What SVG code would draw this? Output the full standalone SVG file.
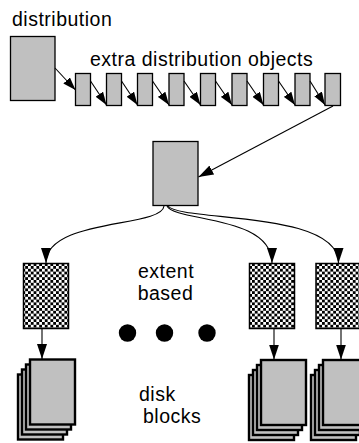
<svg xmlns="http://www.w3.org/2000/svg" width="359" height="443" viewBox="0 0 359 443">
  <style>
    .lbl { font-family: "Liberation Sans", Arial, sans-serif; font-size: 19.5px; letter-spacing: 0.5px; fill: #000; }
    .box { fill: #c0c0c0; stroke: #000; stroke-width: 1.3; }
    .sheet { fill: #c0c0c0; stroke: #000; stroke-width: 2.4; }
    .chk { fill: url(#checker); stroke: #000; stroke-width: 1.5; }
    .wire { fill: none; stroke: #000; stroke-width: 1.1; }
  </style>
  <defs>
    <pattern id="checker" patternUnits="userSpaceOnUse" width="5.6" height="5.6" x="0" y="0">
      <rect width="5.6" height="5.6" fill="#fff"/>
      <rect width="2.8" height="2.8" fill="#000"/>
      <rect x="2.8" y="2.8" width="2.8" height="2.8" fill="#000"/>
    </pattern>
    <marker id="head" markerUnits="userSpaceOnUse" markerWidth="13" markerHeight="9" refX="13" refY="4.5" orient="auto">
      <path d="M0,0 L13,4.5 L0,9 z" fill="#000"/>
    </marker>
    <marker id="headL" markerUnits="userSpaceOnUse" markerWidth="15" markerHeight="10" refX="15" refY="5" orient="auto">
      <path d="M0,0 L15,5 L0,10 z" fill="#000"/>
    </marker>
  </defs>

  <!-- labels -->
  <text class="lbl" x="12" y="26">distribution</text>
  <text class="lbl" x="90" y="65.5">extra distribution objects</text>
  <text class="lbl" x="166" y="277.5" text-anchor="middle">extent</text>
  <text class="lbl" x="165.5" y="299.5" text-anchor="middle">based</text>
  <text class="lbl" x="139" y="400.5">disk</text>
  <text class="lbl" x="143" y="422.5">blocks</text>

  <!-- distribution object -->
  <g id="dist">
    <rect class="box" x="10.5" y="36.5" width="44.5" height="64"/>
  </g>

  <!-- extra distribution objects -->
  <g id="extra">
    <rect class="box" x="75.5" y="73.5" width="15" height="32"/>
    <rect class="box" x="106.5" y="73.5" width="15" height="32"/>
    <rect class="box" x="137.5" y="73.5" width="15" height="32"/>
    <rect class="box" x="169" y="73.5" width="15" height="32"/>
    <rect class="box" x="200.5" y="73.5" width="15" height="32"/>
    <rect class="box" x="232" y="73.5" width="15" height="32"/>
    <rect class="box" x="263.5" y="73.5" width="15" height="32"/>
    <rect class="box" x="295" y="73.5" width="15" height="32"/>
    <rect class="box" x="325" y="73.5" width="15.5" height="32"/>
  </g>

  <!-- map object -->
  <g id="map">
    <rect class="box" x="153" y="141.5" width="45" height="64"/>
  </g>

  <!-- extent based objects -->
  <g id="ext1"><rect class="chk" x="23.5" y="263.5" width="45" height="65"/></g>
  <g id="ext2"><rect class="chk" x="249.5" y="263.5" width="45" height="65"/></g>
  <g id="ext3"><rect class="chk" x="316" y="263.5" width="45" height="65"/></g>

  <!-- ellipsis -->
  <g id="dots">
    <circle cx="127.5" cy="333" r="8.7"/>
    <circle cx="164.5" cy="333" r="8.7"/>
    <circle cx="207" cy="333" r="8.7"/>
  </g>

  <!-- disk block stacks -->
  <g id="disk1">
    <rect class="sheet" x="18" y="374.5" width="45" height="65"/>
    <rect class="sheet" x="22" y="369.5" width="45" height="65"/>
    <rect class="sheet" x="26" y="364.5" width="45" height="65"/>
    <rect class="sheet" x="30" y="359.5" width="45" height="65"/>
  </g>
  <g id="disk2">
    <rect class="sheet" x="249" y="375" width="45" height="65"/>
    <rect class="sheet" x="253" y="370" width="45" height="65"/>
    <rect class="sheet" x="257" y="365" width="45" height="65"/>
    <rect class="sheet" x="261" y="360" width="45" height="65"/>
  </g>
  <g id="disk3">
    <rect class="sheet" x="311" y="375" width="45" height="65"/>
    <rect class="sheet" x="315" y="370" width="45" height="65"/>
    <rect class="sheet" x="319" y="365" width="45" height="65"/>
    <rect class="sheet" x="323" y="360" width="45" height="65"/>
  </g>

  <!-- connectors -->
  <g id="connectors">
    <path class="wire" d="M55,68 L75.5,90" marker-end="url(#head)"/>
    <path class="wire" d="M90.5,81 L106.5,105" marker-end="url(#head)"/>
    <path class="wire" d="M121.5,81 L137.5,105" marker-end="url(#head)"/>
    <path class="wire" d="M152.5,81 L169,105" marker-end="url(#head)"/>
    <path class="wire" d="M184,81 L200.5,105" marker-end="url(#head)"/>
    <path class="wire" d="M215.5,81 L232,105" marker-end="url(#head)"/>
    <path class="wire" d="M247,81 L263.5,105" marker-end="url(#head)"/>
    <path class="wire" d="M278.5,81 L295,105" marker-end="url(#head)"/>
    <path class="wire" d="M310,81 L325,105" marker-end="url(#head)"/>
    <path class="wire" d="M333,106 L198.5,177" marker-end="url(#headL)"/>
    <path class="wire" d="M164,206 C162,228 46,218 46,263" marker-end="url(#headL)"/>
    <path class="wire" d="M167,206 C175,222 272,215 272,263" marker-end="url(#headL)"/>
    <path class="wire" d="M168,206 C180,222 338.5,210 338.5,263" marker-end="url(#headL)"/>
    <path class="wire" d="M42,329 L42,359" marker-end="url(#headL)"/>
    <path class="wire" d="M274,329 L274,359.5" marker-end="url(#headL)"/>
    <path class="wire" d="M341,329 L341,359.5" marker-end="url(#headL)"/>
  </g>
</svg>
